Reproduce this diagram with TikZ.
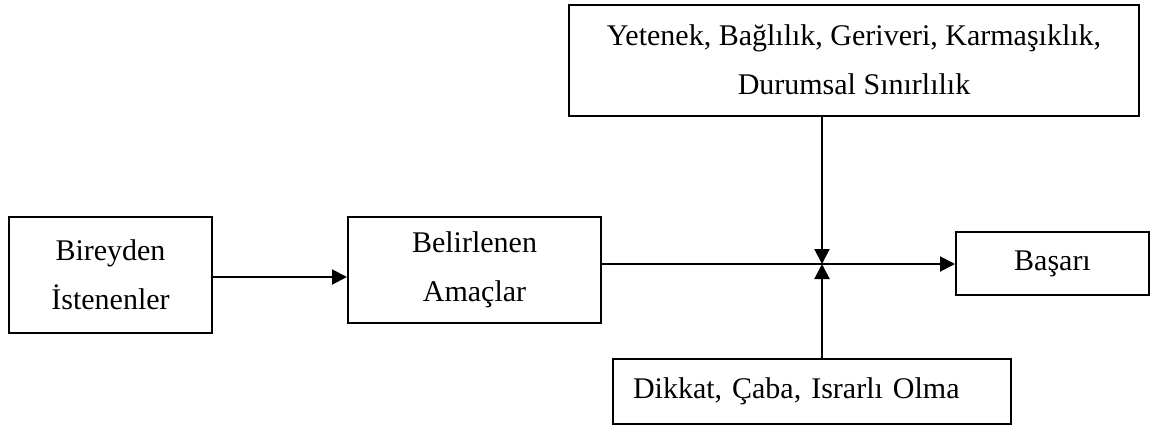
\documentclass[tikz,border=0pt]{standalone}
\usepackage{fontspec}
\setmainfont{Liberation Serif}
\usetikzlibrary{arrows.meta}
\begin{document}
\begin{tikzpicture}[x=0.4pt,y=-0.4pt,
  box/.style={draw, line width=0.8pt, inner sep=0pt, align=center, font=\fontsize{12}{19.5}\selectfont},
  conn/.style={line width=0.8pt},
  arr/.style={conn, -{Triangle[length=6pt,width=6pt]}}]
\useasboundingbox (0,0) rectangle (1161,428);
\node[box, minimum width=81.2pt, minimum height=46.4pt] (b1) at (110.5,275) {Bireyden\\İstenenler};
\node[box, minimum width=101.2pt, minimum height=42.4pt] (b2) at (474.5,270) {Belirlenen\\Amaçlar};
\node[box, minimum width=228pt, minimum height=44.4pt] (top) at (854,60) {Yetenek, Bağlılık, Geriveri, Karmaşıklık,\\Durumsal Sınırlılık};
\node[box, minimum width=77.2pt, minimum height=25.2pt] (bas) at (1052.5,263.5) {Başarı};
\node[box, text width=143.2pt, inner xsep=8pt, align=left, minimum height=26pt] (bot) at (812,391.5) {Dikkat, Çaba, Israrlı Olma};
\coordinate (j) at (822,264);
\coordinate (la) at (280,277);
\draw[arr] (b1.east |- la) -- (b2.west |- la);
\draw[conn] (b2.east |- j) -- (j);
\draw[arr] (j) -- (bas.west |- j);
\draw[arr] (top.south -| j) -- (j);
\draw[arr] (bot.north -| j) -- (j);
\end{tikzpicture}
\end{document}
